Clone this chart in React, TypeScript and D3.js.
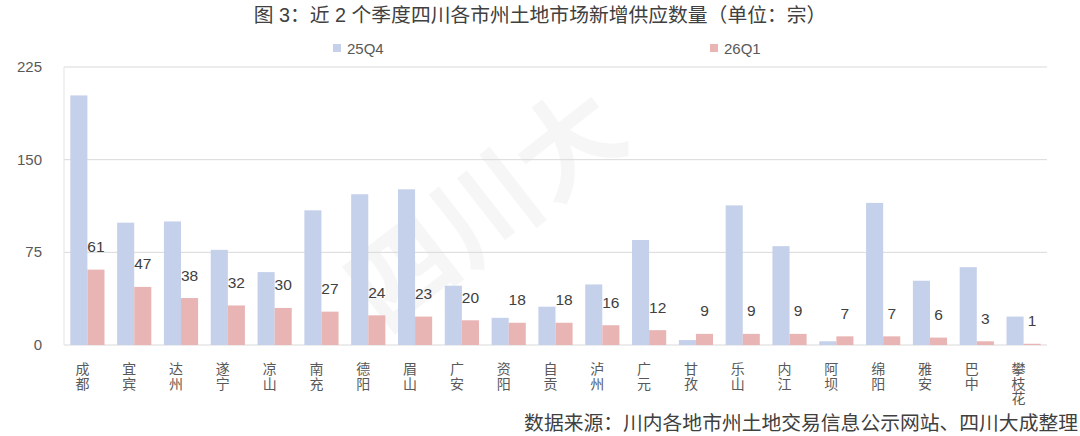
import React from "react";
import * as d3 from "d3";

const categories = ["成都","宜宾","达州","遂宁","凉山","南充","德阳","眉山","广安","资阳","自贡","泸州","广元","甘孜","乐山","内江","阿坝","绵阳","雅安","巴中","攀枝花"];
const q25Q4 = [202,99,100,77,59,109,122,126,48,22,31,49,85,4,113,80,3,115,52,63,23];
const q26Q1 = [61,47,38,32,30,27,24,23,20,18,18,16,12,9,9,9,7,7,6,3,1];
const seriesNames = ["25Q4","26Q1"];
const yTicks = [0,75,150,225];
const title = "图 3：近 2 个季度四川各市州土地市场新增供应数量（单位：宗）";
const source = "数据来源：川内各地市州土地交易信息公示网站、四川大成整理";

const W = 1080, H = 436;
const colors = ["#c5d0eb", "#e9b4b4"];
const FONT = "'Liberation Sans', 'Noto Sans CJK SC', sans-serif";
const CJK = "'Noto Sans CJK SC', sans-serif";

export default function App() {
  const x = d3.scaleBand<string>().domain(categories).range([64, 1047]).paddingInner(0.27).paddingOuter(0.135);
  const sub = d3.scaleBand<string>().domain(seriesNames).range([0, x.bandwidth()]);
  const y = d3.scaleLinear().domain([0, 225]).range([345, 67]);
  const series = [q25Q4, q26Q1];

  return (
    <svg width={W} height={H} style={{ position: "absolute", left: 0, top: 0, background: "#fff" }} fontFamily={FONT}>
      <rect x={0} y={0} width={W} height={H} fill="#fff" />
      {/* watermark */}
      <text x={0} y={0} transform="translate(385,335) rotate(-38)" fontSize={105} fill="#000" fillOpacity={0.035} fontWeight={700} fontFamily={CJK}>四川大</text>
      <text x={W / 2} y={22} textAnchor="middle" fontSize={19.8} fill="#404040">{title}</text>
      {/* legend */}
      {seriesNames.map((s, i) => {
        const lx = i === 0 ? 333 : 710;
        return (
          <g key={s}>
            <rect x={lx} y={44} width={8} height={8} fill={colors[i]} />
            <text x={lx + 14} y={53.5} fontSize={15} fill="#595959">{s}</text>
          </g>
        );
      })}
      {/* grid */}
      {yTicks.map((t) => (
        <g key={t}>
          <line x1={64} x2={1047} y1={y(t)} y2={y(t)} stroke="#d9d9d9" strokeWidth={1} />
          <text x={42} y={y(t) + 5} textAnchor="end" fontSize={15} fill="#595959">{t}</text>
        </g>
      ))}
      <line x1={64} x2={64} y1={y(225)} y2={y(0)} stroke="#e3e3e3" strokeWidth={1} />
      {/* bars */}
      {categories.map((c, i) => (
        <g key={c} transform={`translate(${x(c)},0)`}>
          {series.map((vals, si) => (
            <rect key={si} x={sub(seriesNames[si])} y={y(vals[i])} width={sub.bandwidth()} height={y(0) - y(vals[i])} fill={colors[si]} />
          ))}
          <text x={(sub(seriesNames[1]) as number) + sub.bandwidth() / 2} y={y(q26Q1[i]) - 17.5} textAnchor="middle" fontSize={15.5} fill="#404040">{q26Q1[i]}</text>
        </g>
      ))}
      {/* x labels (vertical) */}
      {categories.map((c) => {
        const cx = (x(c) as number) + x.bandwidth() / 2 - 5;
        return (
          <text key={c} x={cx} y={362} fontSize={14} fill="#595959" fontFamily={CJK}
            style={{ writingMode: "vertical-rl", letterSpacing: "0.5px" } as React.CSSProperties}>
            {c}
          </text>
        );
      })}
      <text x={1078} y={430} textAnchor="end" fontSize={19.8} fill="#404040">{source}</text>
    </svg>
  );
}
